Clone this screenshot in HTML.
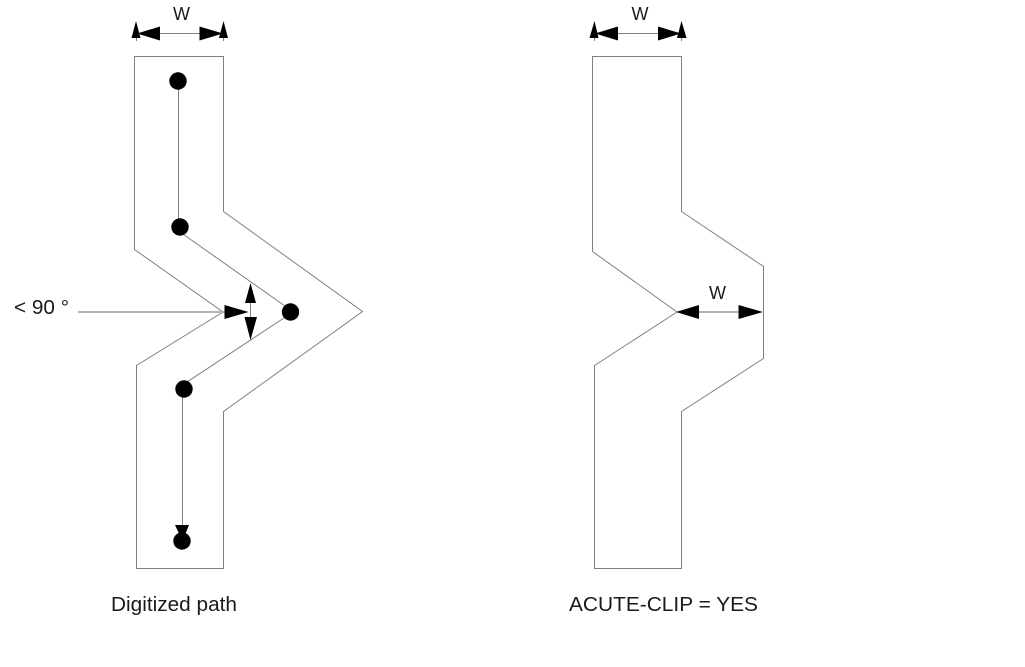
<!DOCTYPE html>
<html>
<head>
<meta charset="utf-8">
<style>
html,body{margin:0;padding:0;background:#fff;width:1025px;height:667px;overflow:hidden}
svg{display:block}
text{font-family:"Liberation Sans",sans-serif;fill:#1a1a1a}
</style>
</head>
<body>
<svg width="1025" height="667" viewBox="0 0 1025 667" xmlns="http://www.w3.org/2000/svg">
<g fill="none" stroke="#808080" stroke-width="1">
<!-- left outline -->
<path d="M134.500 56.500H223.500V211.500L362.500 311.500L223.500 411.500V568.500H136.500V365.500L223 312L134.500 249.500Z"/>
<!-- centerline -->
<path d="M178.500 81V226.500"/>
<path d="M180 232L290 309.500"/>
<path d="M184 384L290 314"/>
<path d="M182.500 389V540"/>
<!-- right outline -->
<path d="M592.500 56.500H681.500V211.500L763.500 266.500V358.500L681.500 411.500V568.500H594.500V365.500L677 312L592.500 251.500Z"/>
<!-- dimensions -->
<path d="M160 33.500H200M618 33.500H658M250.500 300V320"/>
<path d="M136.500 37V41M223.500 37V41M594.500 37V41M681.500 37V41"/>
</g>
<g fill="none" stroke="#b4b4b4" stroke-width="2">
<path d="M78 312H225M697 312H740"/>
</g>
<g fill="#000">
<circle cx="178" cy="81" r="8.700"/>
<circle cx="180" cy="227" r="8.700"/>
<circle cx="290.500" cy="312" r="8.700"/>
<circle cx="184" cy="389" r="8.700"/>
<circle cx="182" cy="541" r="8.700"/>
<!-- bottom arrow -->
<path d="M175 525H189L182.500 541Z"/>
<!-- top left dimension arrows -->
<path d="M137 33.500L160 26.500V40.500Z"/>
<path d="M223 33.500L199.500 26.500V40.500Z"/>
<path d="M136 21L131.500 38H140.500Z"/>
<path d="M223.500 21L219 38H228Z"/>
<!-- top right dimension arrows -->
<path d="M595 33.500L618 26.500V40.500Z"/>
<path d="M681 33.500L658 26.500V40.500Z"/>
<path d="M594.500 21L589.500 38H598.500Z"/>
<path d="M681.500 21L677 38H686.500Z"/>
<!-- center arrows -->
<path d="M248.500 312L224.500 305V319Z"/>
<path d="M250.500 283L245 303H256Z"/>
<path d="M250.500 340L244.500 317H257Z"/>
<!-- right w arrows -->
<path d="M676 312L699 305V319Z"/>
<path d="M763 312L738.500 305V319Z"/>
</g>
<g font-size="20.500">
<text x="14" y="314" textLength="55" lengthAdjust="spacingAndGlyphs">&lt; 90 °</text>
<text x="111" y="611" textLength="126" lengthAdjust="spacingAndGlyphs">Digitized path</text>
<text x="569" y="611" textLength="189" lengthAdjust="spacingAndGlyphs">ACUTE-CLIP = YES</text>
</g>
<g font-size="18">
<text x="173" y="20">W</text>
<text x="631.500" y="20">W</text>
<text x="709" y="299">W</text>
</g>
</svg>
</body>
</html>
